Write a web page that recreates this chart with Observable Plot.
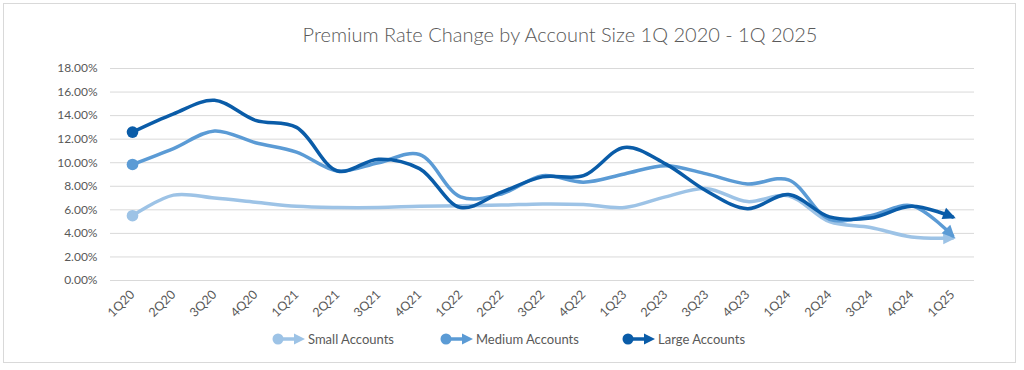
<!DOCTYPE html>
<html>
<head>
<meta charset="utf-8">
<script src="https://cdn.jsdelivr.net/npm/d3@7"></script>
<script src="https://cdn.jsdelivr.net/npm/@observablehq/plot@0.6"></script>
<style>
  html, body { margin: 0; padding: 0; background: #fff; }
  #frame { position: relative; width: 1024px; height: 370px; font-family: Lato, "Open Sans", sans-serif; color: #595959; }
  #border { position: absolute; left: 3px; top: 3px; width: 1013px; height: 360px; border: 1px solid #d9d9d9; box-sizing: border-box; }
  #title { position: absolute; left: 560px; top: 22px; transform: translateX(-50%); white-space: nowrap; font-size: 20px; font-weight: 300; color: #595959; }
  #chart { position: absolute; left: 0; top: 55px; }
  .leg { position: absolute; top: 331px; display: flex; align-items: center; font-size: 13px; color: #595959; white-space: nowrap; }
  .leg svg { margin-right: 2px; }
</style>
</head>
<body>
<div id="frame">
  <div id="border"></div>
  <div id="title">Premium Rate Change by Account Size 1Q 2020 - 1Q 2025</div>
  <div id="chart"></div>
  <div id="legend"></div>
</div>
<script>
const quarters = ["1Q20","2Q20","3Q20","4Q20","1Q21","2Q21","3Q21","4Q21","1Q22","2Q22","3Q22","4Q22","1Q23","2Q23","3Q23","4Q23","1Q24","2Q24","3Q24","4Q24","1Q25"];
const smallAccounts  = [5.5, 7.25, 7.0, 6.65, 6.3, 6.2, 6.2, 6.3, 6.35, 6.4, 6.5, 6.45, 6.2, 7.1, 7.8, 6.7, 7.2, 5.0, 4.5, 3.7, 3.6];
const mediumAccounts = [9.85, 11.2, 12.7, 11.7, 10.9, 9.3, 10.0, 10.7, 7.1, 7.35, 8.9, 8.35, 9.05, 9.75, 9.05, 8.2, 8.55, 5.2, 5.5, 6.35, 3.8];
const largeAccounts  = [12.6, 14.15, 15.3, 13.6, 13.0, 9.3, 10.3, 9.5, 6.2, 7.5, 8.8, 8.9, 11.3, 9.9, 7.6, 6.1, 7.3, 5.4, 5.3, 6.3, 5.4];
const seriesNames = ["Small Accounts", "Medium Accounts", "Large Accounts"];
const seriesColors = ["#9dc3e6", "#5b9bd5", "#0a5ca8"];
const yTicks = [0, 2, 4, 6, 8, 10, 12, 14, 16, 18];

const seriesValues = [smallAccounts, mediumAccounts, largeAccounts];
const tables = seriesValues.map((vals, s) => quarters.map((q, i) => ({quarter: q, value: vals[i], series: seriesNames[s]})));

const plot = Plot.plot({
  width: 1024,
  height: 265,
  marginTop: 13,
  marginBottom: 40,
  marginLeft: 110,
  marginRight: 50,
  style: {fontFamily: "Lato, 'Open Sans', sans-serif", fontSize: "12px", color: "#595959", background: "transparent"},
  x: {type: "point", domain: quarters, padding: 0.5},
  y: {domain: [0, 18]},
  marks: [
    Plot.gridY(yTicks, {stroke: "#d9d9d9", strokeOpacity: 1, strokeWidth: 1}),
    Plot.axisY(yTicks, {tickSize: 0, tickPadding: 13, label: null, tickFormat: d => d.toFixed(2) + "%", fill: "#595959"}),
    Plot.axisX({tickSize: 0, tickPadding: 12, tickRotate: -45, label: null, fill: "#595959", fontSize: 12.5}),
    ...tables.map((t, s) => Plot.line(t, {
      x: "quarter", y: "value",
      stroke: seriesColors[s], strokeWidth: 3.5,
      curve: "catmull-rom",
      markerStart: "dot", markerEnd: "arrow"
    }))
  ]
});

// turn the open arrow markers into filled arrowheads
plot.querySelectorAll("marker").forEach(m => {
  const p = m.querySelector("path");
  if (p) {
    const c = m.getAttribute("stroke");
    p.setAttribute("d", "M-4,-2.6L1.5,0L-4,2.6Z");
    p.setAttribute("fill", c);
    p.setAttribute("stroke", "none");
  }
});
document.getElementById("chart").appendChild(plot);

// legend
const legendX = [272, 440, 622];
const legend = document.getElementById("legend");
seriesNames.forEach((name, s) => {
  const div = document.createElement("div");
  div.className = "leg";
  div.style.left = legendX[s] + "px";
  const c = seriesColors[s];
  div.innerHTML = `<svg width="34" height="16" viewBox="0 0 34 16">
    <line x1="6" y1="8" x2="26" y2="8" stroke="${c}" stroke-width="3.5"/>
    <circle cx="6" cy="8" r="5.5" fill="${c}"/>
    <path d="M22,2.5L33,8L22,13.5Z" fill="${c}"/>
  </svg><span>${name}</span>`;
  legend.appendChild(div);
});
</script>
</body>
</html>
